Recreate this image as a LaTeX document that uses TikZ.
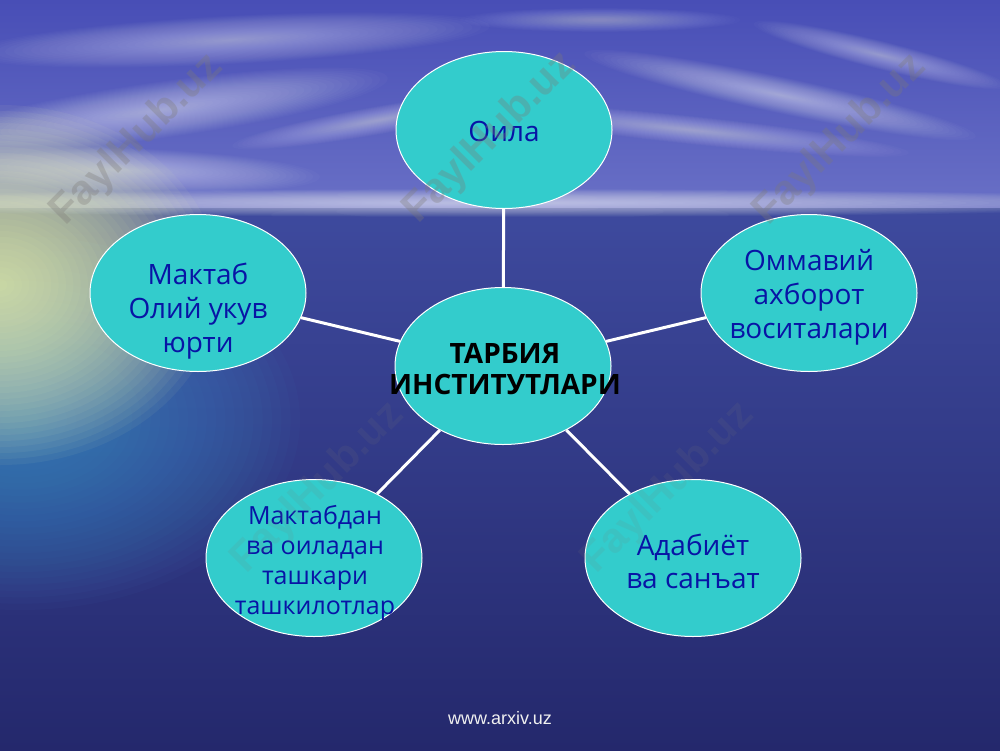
\documentclass[tikz,border=0pt]{standalone}
\usepackage{fontspec}
\setmainfont{Open Sans}
\newfontfamily\arialfont{Liberation Sans}
\usetikzlibrary{shapes.geometric}
\definecolor{skytop}{RGB}{72,78,182}
\definecolor{skylow}{RGB}{105,112,198}
\definecolor{horiz}{RGB}{160,166,212}
\definecolor{seatop}{RGB}{62,74,158}
\definecolor{seabot}{RGB}{36,40,108}
\definecolor{bubfill}{RGB}{51,204,204}
\definecolor{dblue}{RGB}{8,20,165}
\definecolor{sunglow}{RGB}{240,250,175}
\definecolor{seaglow}{RGB}{75,160,215}
\definecolor{wmgray}{RGB}{125,122,118}
\newcommand{\softblob}[7]{%
  \foreach \k in {1,...,30}{%
    \pgfmathsetmacro\ra{#3/30*\k}\pgfmathsetmacro\rb{#4/30*\k}%
    \fill[#5, opacity=#6, rotate around={#7:(#1,#2)}] (#1,#2) ellipse ({\ra pt} and {\rb pt});}}
\tikzset{
  bub/.style={ellipse, draw=white, line width=1pt, fill=bubfill, minimum width=216pt, minimum height=157pt, inner sep=0pt},
  lbl/.style={text=dblue, font=\fontsize{28}{34}\selectfont, align=center, inner sep=0pt},
  conn/.style={draw=white, line width=3pt},
  wm/.style={text=wmgray, opacity=0.32, font=\arialfont\bfseries\fontsize{42}{42}\selectfont, rotate=45}
}
\begin{document}
\begin{tikzpicture}[x=1pt,y=-1pt]
\useasboundingbox (0,0) rectangle (1000,750);
% sky
\shade[top color=skytop, bottom color=skylow] (0,0) rectangle (1000,208);
% sea
\shade[top color=seatop, bottom color=seabot] (0,208) rectangle (1000,750);
% clouds
\softblob{230}{40}{260}{24}{white}{0.02}{3}
\softblob{160}{110}{230}{28}{white}{0.022}{8}
\softblob{120}{170}{200}{22}{white}{0.022}{-2}
\softblob{380}{120}{150}{14}{white}{0.018}{10}
\softblob{780}{95}{200}{18}{white}{0.022}{-12}
\softblob{690}{130}{220}{14}{white}{0.018}{-6}
\softblob{880}{55}{130}{14}{white}{0.018}{-14}
\softblob{600}{20}{140}{12}{white}{0.015}{0}
% horizon haze
\softblob{500}{203}{700}{14}{white}{0.03}{0}
% sea glow and sun glow
\softblob{20}{420}{280}{190}{seaglow}{0.035}{0}
\softblob{0}{285}{220}{180}{sunglow}{0.055}{0}
% nodes
\node[bub] (c) at (503,366) {};
\node[bub] (o1) at (504,130) {};
\node[bub] (o2) at (809,293) {};
\node[bub] (o3) at (693,558) {};
\node[bub] (o4) at (314,558) {};
\node[bub] (o5) at (198,293) {};
% connectors
\draw[conn] (c) -- (o1);
\draw[conn] (c) -- (o2);
\draw[conn] (c) -- (o3);
\draw[conn] (c) -- (o4);
\draw[conn] (c) -- (o5);
% labels
\node[lbl] (t1) at (504,131) {Оила};
\node[lbl] (t2) at (809,297) {Оммавий\\ахборот\\воситалари};
\node[lbl, font=\fontsize{28}{33}\selectfont] (t3) at (693,561) {Адабиёт\\ва санъат};
\node[lbl, font=\fontsize{25}{30}\selectfont] (t4) at (315,563) {Мактабдан\\ва оиладан\\ташкари\\ташкилотлар};
\node[lbl] (t5) at (198,311) {Мактаб\\Олий укув\\юрти};
\node[lbl, text=black, font=\bfseries\fontsize{28}{31}\selectfont] (tc) at (505,369) {ТАРБИЯ\\ИНСТИТУТЛАРИ};
% watermarks
\node[wm] (w1) at (137,140) {FaylHub.uz};
\node[wm] (w2) at (490,138) {FaylHub.uz};
\node[wm] (w3) at (840,140) {FaylHub.uz};
\node[wm, opacity=0.12] (w4) at (318,488) {FaylHub.uz};
\node[wm, opacity=0.12] (w5) at (668,488) {FaylHub.uz};
% footer
\node[text=white!88!gray, font=\arialfont\fontsize{18}{18}\selectfont] (f) at (500,718) {www.arxiv.uz};
\end{tikzpicture}
\end{document}
